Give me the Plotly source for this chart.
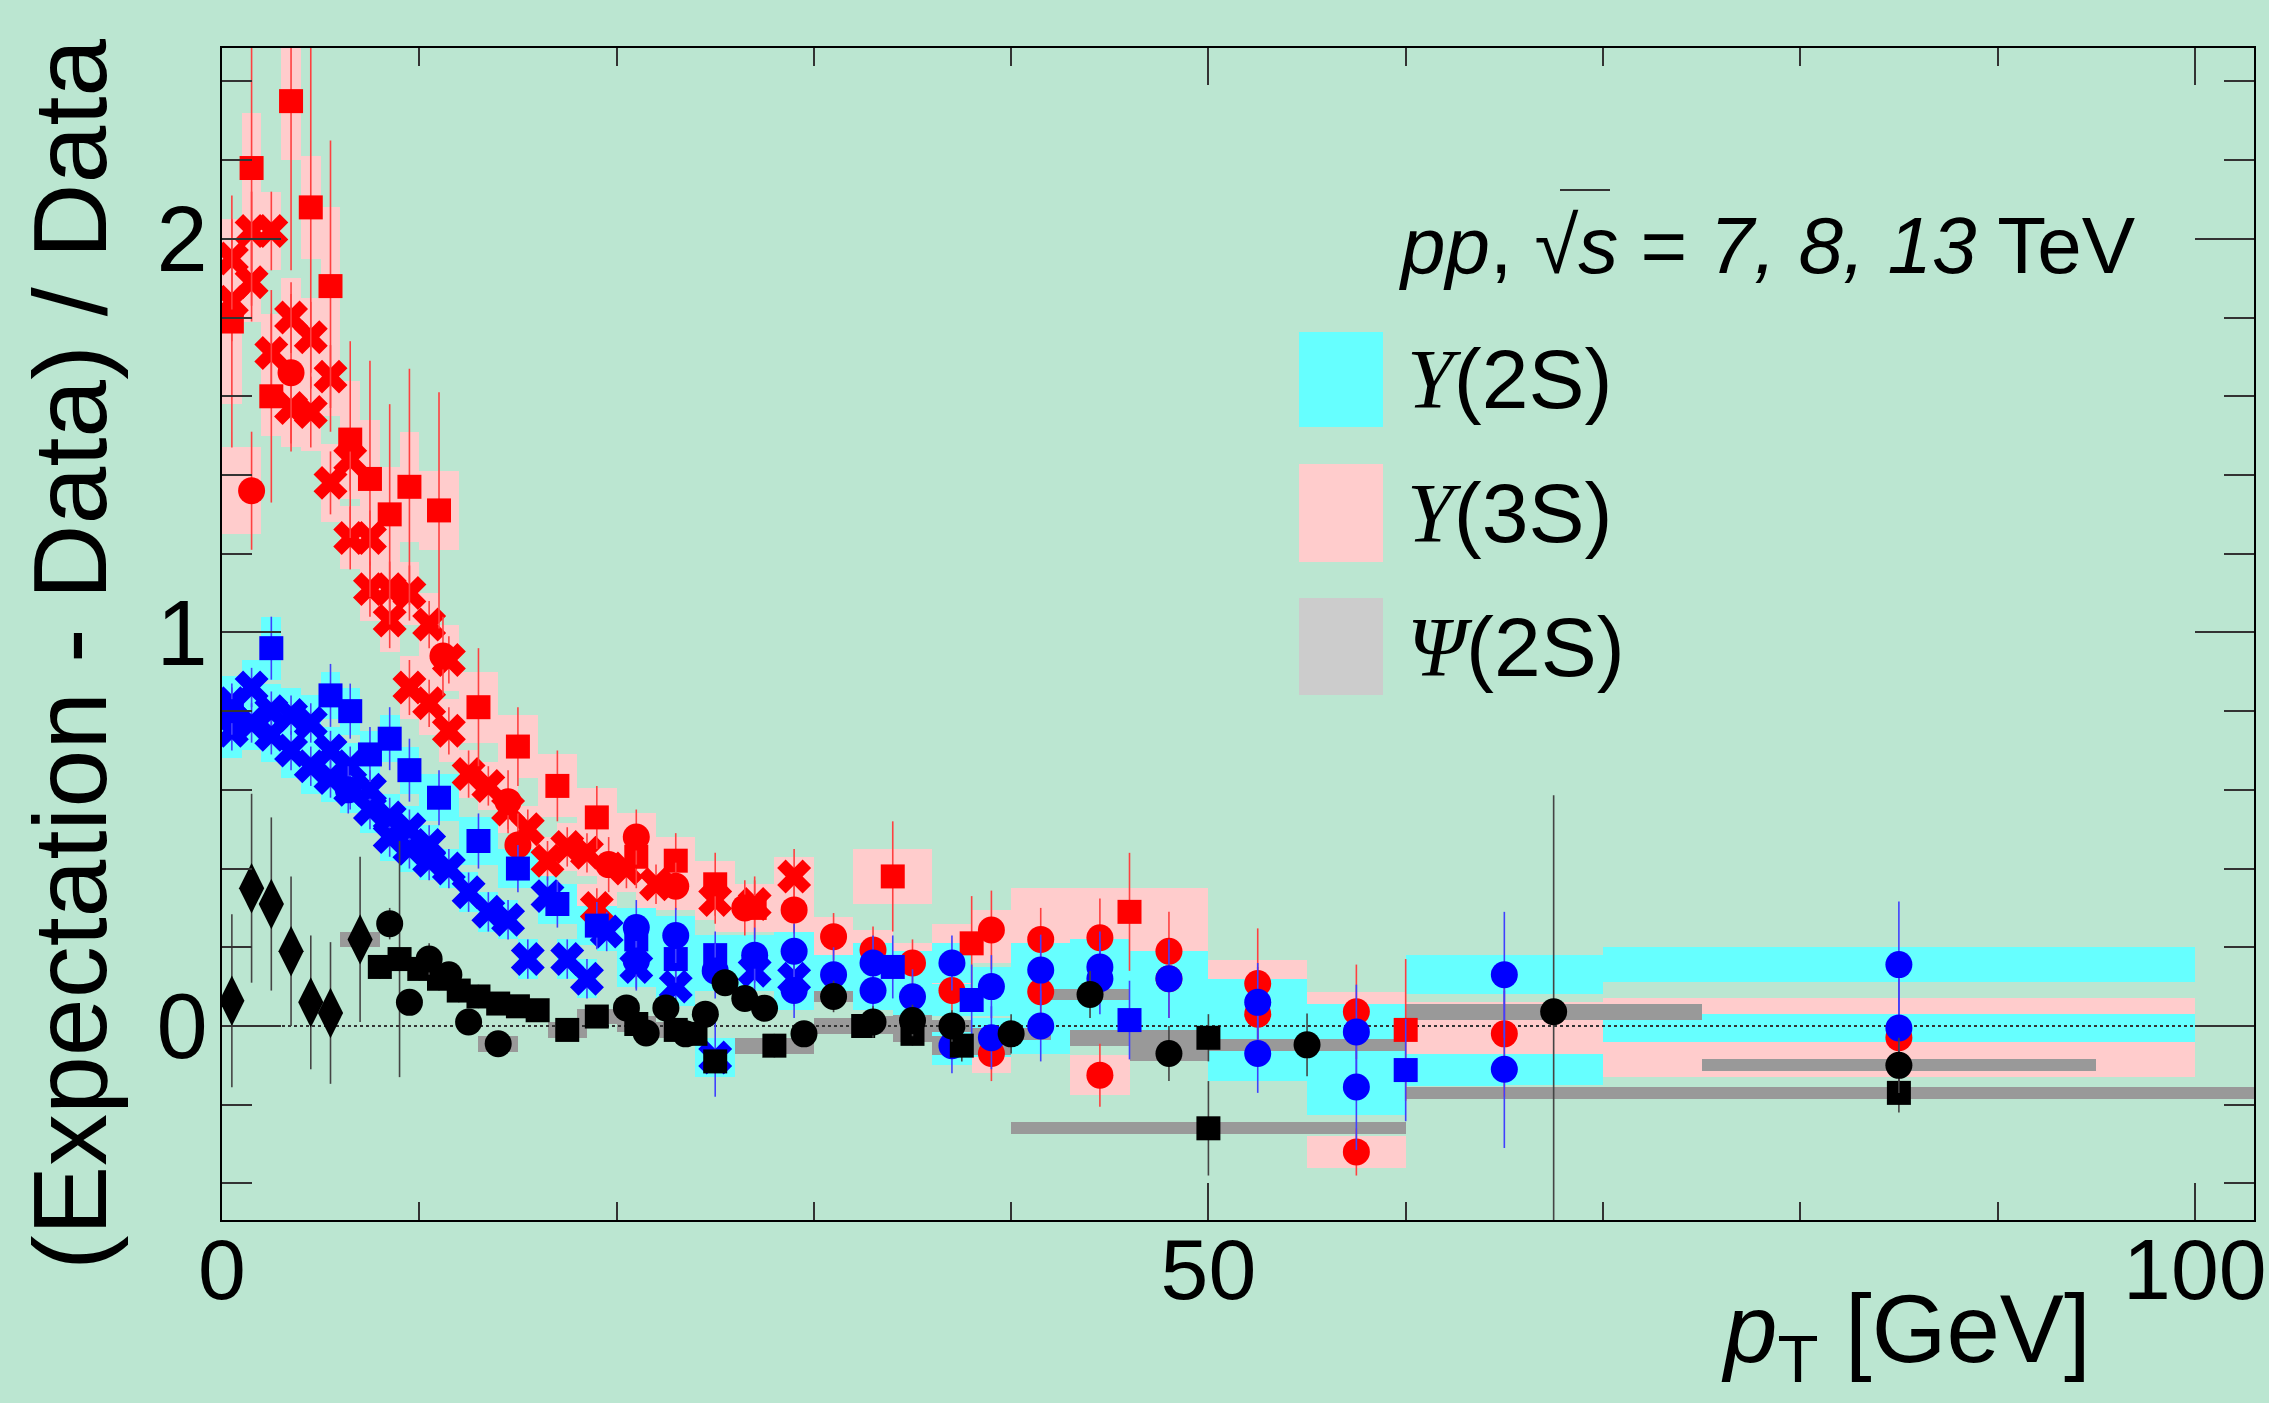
import plotly.graph_objects as go

# ---------------- data ----------------
# Upsilon(3S) - squares
R_sq_pt   = [0.5, 1.5, 2.5, 3.5, 4.5, 5.5, 6.5, 7.5, 8.5, 9.5, 11.0, 13.0, 15.0, 17.0, 19.0, 21.0, 23.0, 25.0, 27.0, 34.0, 38.0, 46.0, 60.0]
R_sq_val  = [1.79, 2.18, 1.60, 2.35, 2.08, 1.88, 1.49, 1.39, 1.30, 1.37, 1.31, 0.81, 0.71, 0.61, 0.53, 0.43, 0.42, 0.36, 0.30, 0.38, 0.21, 0.29, -0.01]
R_sq_stat = [0.32, 0.35, 0.27, 0.43, 0.46, 0.37, 0.25, 0.30, 0.28, 0.30, 0.30, 0.15, 0.10, 0.09, 0.08, 0.08, 0.07, 0.08, 0.08, 0.14, 0.12, 0.15, 0.18]
R_sq_xlo  = [0, 1, 2, 3, 4, 5, 6, 7, 8, 9, 10, 12, 14, 16, 18, 20, 22, 24, 26, 32, 36, 40, 50]
R_sq_xhi  = [1, 2, 3, 4, 5, 6, 7, 8, 9, 10, 12, 14, 16, 18, 20, 22, 24, 26, 28, 36, 40, 50, 70]
R_sq_sys  = [0.21, 0.14, 0.10, 0.15, 0.13, 0.20, 0.15, 0.15, 0.12, 0.14, 0.10, 0.09, 0.08, 0.08, 0.075, 0.07, 0.06, 0.06, 0.06, 0.07, 0.05, 0.06, 0.045]

# Upsilon(3S) - crosses
R_x_pt   = [0.5, 0.5, 1.5, 1.5, 2.5, 2.5, 3.5, 3.5, 4.5, 4.5, 5.5, 5.5, 6.5, 6.5, 7.5, 7.5, 8.5, 8.5, 9.5, 9.5, 10.5, 10.5, 11.5, 11.5, 12.5, 13.5, 14.5, 15.5, 16.5, 17.5, 18.5, 19.0, 20.5, 22.0, 25.0, 27.0, 29.0]
R_x_val  = [1.95, 1.84, 2.02, 1.89, 2.02, 1.71, 1.80, 1.57, 1.75, 1.56, 1.65, 1.38, 1.44, 1.24, 1.24, 1.11, 1.11, 1.03, 1.10, 0.86, 1.02, 0.82, 0.93, 0.75, 0.64, 0.61, 0.55, 0.50, 0.42, 0.455, 0.44, 0.30, 0.40, 0.36, 0.32, 0.31, 0.38]
R_x_stat = [0.10, 0.10, 0.10, 0.10, 0.10, 0.10, 0.09, 0.09, 0.09, 0.09, 0.08, 0.08, 0.08, 0.08, 0.07, 0.07, 0.07, 0.07, 0.07, 0.07, 0.06, 0.06, 0.06, 0.06, 0.06, 0.05, 0.05, 0.05, 0.05, 0.05, 0.05, 0.05, 0.05, 0.05, 0.06, 0.06, 0.07]
R_x_hw   = [0.5, 0.5, 0.5, 0.5, 0.5, 0.5, 0.5, 0.5, 0.5, 0.5, 0.5, 0.5, 0.5, 0.5, 0.5, 0.5, 0.5, 0.5, 0.5, 0.5, 0.5, 0.5, 0.5, 0.5, 0.5, 0.5, 0.5, 0.5, 0.5, 0.5, 0.5, 1.0, 0.5, 1.0, 1.0, 1.0, 1.0]
R_x_sys  = [0.10, 0.10, 0.10, 0.10, 0.10, 0.10, 0.10, 0.10, 0.10, 0.10, 0.10, 0.10, 0.08, 0.08, 0.08, 0.08, 0.08, 0.08, 0.08, 0.08, 0.08, 0.08, 0.08, 0.08, 0.06, 0.06, 0.06, 0.06, 0.06, 0.06, 0.06, 0.06, 0.06, 0.06, 0.05, 0.05, 0.05]

# Upsilon(3S) - circles
R_ci_pt   = [1.5, 3.5, 11.2, 14.5, 15.0, 19.6, 21.0, 23.0, 26.5, 29.0, 31.0, 33.0, 35.0, 37.0, 39.0, 39.0, 41.5, 41.5, 44.5, 44.5, 48.0, 48.0, 52.5, 52.5, 57.5, 57.5, 65.0, 85.0]
R_ci_val  = [1.36, 1.66, 0.94, 0.57, 0.46, 0.41, 0.48, 0.355, 0.30, 0.295, 0.227, 0.193, 0.16, 0.09, 0.244, -0.07, 0.22, 0.087, 0.224, -0.125, 0.19, 0.12, 0.108, 0.03, 0.036, -0.32, -0.02, -0.03]
R_ci_stat = [0.15, 0.20, 0.10, 0.08, 0.08, 0.07, 0.07, 0.06, 0.07, 0.06, 0.06, 0.06, 0.06, 0.06, 0.10, 0.07, 0.08, 0.08, 0.10, 0.08, 0.10, 0.10, 0.14, 0.12, 0.12, 0.06, 0.16, 0.17]
R_ci_xlo  = [0, 3, 10, 14, 15, 19, 20, 22, 25, 28, 30, 32, 34, 36, 38, 38, 40, 40, 43, 43, 46, 46, 50, 50, 55, 55, 60, 70]
R_ci_xhi  = [2, 4, 12, 15, 16, 20, 22, 24, 28, 30, 32, 34, 36, 38, 40, 40, 43, 43, 46, 46, 50, 50, 55, 55, 60, 60, 70, 100]
R_ci_sys  = [0.11, 0.12, 0.08, 0.07, 0.07, 0.06, 0.06, 0.06, 0.06, 0.06, 0.05, 0.05, 0.05, 0.05, 0.05, 0.05, 0.06, 0.06, 0.06, 0.05, 0.06, 0.06, 0.06, 0.05, 0.05, 0.04, 0.08, 0.10]

# Upsilon(2S) - squares
B_sq_pt   = [0.5, 2.5, 5.5, 6.5, 7.5, 8.5, 9.5, 11.0, 13.0, 15.0, 17.0, 19.0, 21.0, 23.0, 25.0, 34.0, 38.0, 46.0, 60.0]
B_sq_val  = [0.80, 0.96, 0.84, 0.80, 0.69, 0.73, 0.65, 0.58, 0.47, 0.40, 0.31, 0.255, 0.22, 0.17, 0.18, 0.15, 0.066, 0.015, -0.112]
B_sq_stat = [0.06, 0.08, 0.08, 0.07, 0.07, 0.08, 0.08, 0.07, 0.07, 0.06, 0.06, 0.06, 0.06, 0.06, 0.06, 0.08, 0.09, 0.10, 0.13]
B_sq_xlo  = [0, 2, 5, 6, 7, 8, 9, 10, 12, 14, 16, 18, 20, 22, 24, 32, 36, 40, 55]
B_sq_xhi  = [1, 3, 6, 7, 8, 9, 10, 12, 14, 16, 18, 20, 22, 24, 26, 36, 40, 50, 65]
B_sq_sys  = [0.06, 0.08, 0.06, 0.06, 0.06, 0.06, 0.06, 0.06, 0.06, 0.05, 0.05, 0.05, 0.05, 0.05, 0.05, 0.04, 0.04, 0.04, 0.04]

# Upsilon(2S) - crosses
B_x_pt   = [0.5, 0.5, 1.5, 1.5, 2.5, 2.5, 3.5, 3.5, 4.5, 4.5, 5.5, 5.5, 6.5, 6.5, 7.5, 7.5, 8.5, 8.5, 9.5, 9.5, 10.5, 10.5, 11.5, 12.5, 13.5, 14.5, 15.5, 16.5, 17.5, 18.5, 19.5, 21.0, 23.0, 25.0, 27.0, 29.0]
B_x_val  = [0.82, 0.75, 0.86, 0.77, 0.80, 0.74, 0.79, 0.70, 0.77, 0.66, 0.70, 0.63, 0.66, 0.60, 0.60, 0.55, 0.53, 0.48, 0.50, 0.45, 0.46, 0.42, 0.40, 0.34, 0.29, 0.27, 0.17, 0.33, 0.17, 0.12, 0.24, 0.15, 0.10, -0.08, 0.14, 0.12]
B_x_stat = [0.05, 0.05, 0.05, 0.05, 0.05, 0.05, 0.05, 0.05, 0.05, 0.05, 0.05, 0.05, 0.05, 0.05, 0.05, 0.05, 0.05, 0.05, 0.05, 0.05, 0.05, 0.05, 0.05, 0.05, 0.05, 0.05, 0.05, 0.05, 0.05, 0.05, 0.05, 0.06, 0.06, 0.10, 0.07, 0.07]
B_x_hw   = [0.5, 0.5, 0.5, 0.5, 0.5, 0.5, 0.5, 0.5, 0.5, 0.5, 0.5, 0.5, 0.5, 0.5, 0.5, 0.5, 0.5, 0.5, 0.5, 0.5, 0.5, 0.5, 0.5, 0.5, 0.5, 0.5, 0.5, 0.5, 0.5, 0.5, 0.5, 1.0, 1.0, 1.0, 1.0, 1.0]
B_x_sys  = [0.07, 0.07, 0.07, 0.07, 0.07, 0.07, 0.07, 0.07, 0.07, 0.07, 0.06, 0.06, 0.06, 0.06, 0.06, 0.06, 0.06, 0.06, 0.06, 0.06, 0.05, 0.05, 0.05, 0.05, 0.05, 0.05, 0.05, 0.05, 0.05, 0.05, 0.05, 0.05, 0.05, 0.05, 0.05, 0.05]

# Upsilon(2S) - circles
B_ci_pt   = [6.4, 21.0, 21.0, 23.0, 25.0, 27.0, 29.0, 29.0, 31.0, 33.0, 33.0, 35.0, 37.0, 37.0, 39.0, 39.0, 41.5, 41.5, 44.5, 44.5, 48.0, 52.5, 52.5, 57.5, 57.5, 65.0, 65.0, 85.0, 85.0]
B_ci_val  = [0.60, 0.25, 0.165, 0.23, 0.14, 0.18, 0.19, 0.09, 0.13, 0.16, 0.09, 0.074, 0.16, -0.05, 0.10, -0.03, 0.142, 0.0, 0.15, 0.12, 0.12, 0.06, -0.07, -0.015, -0.155, 0.13, -0.11, 0.156, -0.005]
B_ci_stat = [0.06, 0.07, 0.07, 0.07, 0.07, 0.07, 0.07, 0.07, 0.07, 0.07, 0.07, 0.07, 0.07, 0.07, 0.08, 0.08, 0.09, 0.09, 0.09, 0.09, 0.10, 0.10, 0.10, 0.12, 0.16, 0.16, 0.20, 0.16, 0.17]
B_ci_xlo  = [6, 20, 20, 22, 24, 26, 28, 28, 30, 32, 32, 34, 36, 36, 38, 38, 40, 40, 43, 43, 46, 50, 50, 55, 55, 60, 60, 70, 70]
B_ci_xhi  = [7, 22, 22, 24, 26, 28, 30, 30, 32, 34, 34, 36, 38, 38, 40, 40, 43, 43, 46, 46, 50, 55, 55, 60, 60, 70, 70, 100, 100]
B_ci_sys  = [0.05, 0.05, 0.05, 0.05, 0.05, 0.05, 0.05, 0.05, 0.05, 0.05, 0.05, 0.05, 0.05, 0.05, 0.05, 0.05, 0.07, 0.07, 0.07, 0.07, 0.07, 0.06, 0.07, 0.07, 0.07, 0.05, 0.04, 0.045, 0.035]

# Psi(2S) - diamonds
K_d_pt   = [0.5, 1.5, 2.5, 3.5, 4.5, 5.5, 7.0]
K_d_val  = [0.064, 0.35, 0.31, 0.19, 0.06, 0.033, 0.22]
K_d_stat = [0.22, 0.24, 0.22, 0.19, 0.17, 0.18, 0.21]
K_d_xlo  = [0, 1, 2, 3, 4, 5, 6]
K_d_xhi  = [1, 2, 3, 4, 5, 6, 8]
K_d_sys  = [0.01, 0.01, 0.01, 0.01, 0.01, 0.01, 0.02]

# Psi(2S) - circles
K_ci_pt   = [8.5, 9.5, 10.5, 11.5, 12.5, 14.0, 20.5, 21.5, 22.5, 23.5, 24.5, 25.5, 26.5, 27.5, 29.5, 31.0, 33.0, 35.0, 37.0, 40.0, 44.0, 48.0, 55.0, 67.5, 85.0]
K_ci_val  = [0.26, 0.06, 0.17, 0.13, 0.01, -0.045, 0.046, -0.018, 0.046, -0.02, 0.03, 0.11, 0.07, 0.045, -0.02, 0.075, 0.01, 0.014, 0.0, -0.02, 0.08, -0.07, -0.048, 0.036, -0.10]
K_ci_stat = [0.04, 0.03, 0.04, 0.03, 0.03, 0.03, 0.03, 0.03, 0.03, 0.03, 0.03, 0.03, 0.03, 0.03, 0.03, 0.04, 0.04, 0.04, 0.04, 0.05, 0.06, 0.07, 0.08, 0.55, 0.07]
K_ci_xlo  = [8, 9, 10, 11, 12, 13, 20, 21, 22, 23, 24, 25, 26, 27, 29, 30, 32, 34, 36, 38, 42, 46, 50, 60, 75]
K_ci_xhi  = [9, 10, 11, 12, 13, 15, 21, 22, 23, 24, 25, 26, 27, 28, 30, 32, 34, 36, 38, 42, 46, 50, 60, 75, 95]
K_ci_sys  = [0.02, 0.02, 0.02, 0.02, 0.02, 0.02, 0.015, 0.015, 0.015, 0.015, 0.015, 0.015, 0.015, 0.015, 0.015, 0.015, 0.015, 0.015, 0.015, 0.015, 0.015, 0.02, 0.015, 0.02, 0.015]

# Psi(2S) - squares
K_sq_pt   = [8.0, 9.0, 10.0, 11.0, 12.0, 13.0, 14.0, 15.0, 16.0, 17.5, 19.0, 21.0, 23.0, 24.0, 25.0, 28.0, 32.5, 35.0, 37.5, 50.0, 50.0, 85.0]
K_sq_val  = [0.15, 0.17, 0.145, 0.12, 0.09, 0.075, 0.057, 0.05, 0.04, -0.01, 0.024, 0.005, -0.01, -0.02, -0.09, -0.05, 0.0, -0.02, -0.05, -0.03, -0.26, -0.17]
K_sq_stat = [0.03, 0.30, 0.03, 0.03, 0.03, 0.03, 0.02, 0.02, 0.02, 0.02, 0.02, 0.02, 0.02, 0.02, 0.03, 0.03, 0.03, 0.03, 0.04, 0.06, 0.12, 0.05]
K_sq_xlo  = [7.5, 8.5, 9.5, 10.5, 11.5, 12.5, 13.5, 14.5, 15.5, 16.5, 18, 20, 22, 23.5, 24.5, 26, 30, 34, 36, 43, 40, 60]
K_sq_xhi  = [8.5, 9.5, 10.5, 11.5, 12.5, 13.5, 14.5, 15.5, 16.5, 18.5, 20, 22, 24, 24.5, 25.5, 30, 35, 36, 40, 50, 60, 110]
K_sq_sys  = [0.02, 0.02, 0.02, 0.02, 0.02, 0.02, 0.02, 0.02, 0.02, 0.02, 0.02, 0.02, 0.02, 0.02, 0.02, 0.02, 0.02, 0.02, 0.025, 0.02, 0.015, 0.015]

LEGEND_LABELS = ["Υ(2S)", "Υ(3S)", "Ψ(2S)"]

# ---------------- style ----------------
BG = "#bbe6d1"
PINK, CYAN, GREY = "#ffcccc", "#66ffff", "#999999"
FONT = "Liberation Sans, Arial, Helvetica, sans-serif"
SERIF = "Liberation Serif, Times New Roman, serif"

W, H = 2269, 1403
L, R, T, B = 222, 15, 48, 183
PW, PH = W - L - R, H - T - B


def px(xp):
    return (xp - L) / PW


def py(yp):
    return (H - B - yp) / PH


fig = go.Figure()


def boxes(xlo, xhi, val, sys, color):
    fig.add_trace(go.Bar(
        x=[(a + b) / 2 for a, b in zip(xlo, xhi)],
        y=[2 * s for s in sys],
        base=[v - s for v, s in zip(val, sys)],
        width=[b - a for a, b in zip(xlo, xhi)],
        marker=dict(color=color, line=dict(width=0)),
        showlegend=False, hoverinfo="skip"))


def points(pt, val, stat, color, ecolor, symbol, size):
    fig.add_trace(go.Scatter(
        x=pt, y=val, mode="markers",
        marker=dict(symbol=symbol, size=size, color=color, line=dict(width=0)),
        error_y=dict(type="data", array=stat, visible=True, color=ecolor, thickness=1.6, width=0),
        showlegend=False, hoverinfo="skip"))


# systematic boxes
boxes(R_sq_xlo, R_sq_xhi, R_sq_val, R_sq_sys, PINK)
boxes([p - h for p, h in zip(R_x_pt, R_x_hw)], [p + h for p, h in zip(R_x_pt, R_x_hw)], R_x_val, R_x_sys, PINK)
boxes(R_ci_xlo, R_ci_xhi, R_ci_val, R_ci_sys, PINK)
boxes(B_sq_xlo, B_sq_xhi, B_sq_val, B_sq_sys, CYAN)
boxes([p - h for p, h in zip(B_x_pt, B_x_hw)], [p + h for p, h in zip(B_x_pt, B_x_hw)], B_x_val, B_x_sys, CYAN)
boxes(B_ci_xlo, B_ci_xhi, B_ci_val, B_ci_sys, CYAN)
boxes(K_d_xlo, K_d_xhi, K_d_val, K_d_sys, GREY)
boxes(K_ci_xlo, K_ci_xhi, K_ci_val, K_ci_sys, GREY)
boxes(K_sq_xlo, K_sq_xhi, K_sq_val, K_sq_sys, GREY)

# reference line at zero
fig.add_trace(go.Scatter(x=[0, 100], y=[0, 0], mode="lines",
                         line=dict(color="#333333", width=2, dash="dot"),
                         showlegend=False, hoverinfo="skip"))

# data points
points(R_x_pt, R_x_val, R_x_stat, "red", "#ff4040", "x", 30)
points(R_sq_pt, R_sq_val, R_sq_stat, "red", "#ff4040", "square", 24)
points(R_ci_pt, R_ci_val, R_ci_stat, "red", "#ff4040", "circle", 27)
points(B_x_pt, B_x_val, B_x_stat, "blue", "#4040ff", "x", 30)
points(B_sq_pt, B_sq_val, B_sq_stat, "blue", "#4040ff", "square", 24)
points(B_ci_pt, B_ci_val, B_ci_stat, "blue", "#4040ff", "circle", 27)
points(K_d_pt, K_d_val, K_d_stat, "black", "#444444", "diamond-tall", 36)
points(K_sq_pt, K_sq_val, K_sq_stat, "black", "#444444", "square", 24)
points(K_ci_pt, K_ci_val, K_ci_stat, "black", "#444444", "circle", 27)

# legend (drawn by hand, ROOT style)
leg_colors = [CYAN, PINK, "#cccccc"]
leg_top = [332, 464, 598]
leg_bot = [427, 562, 695]
shapes = []
annotations = []
for lab, col, t, b in zip(LEGEND_LABELS, leg_colors, leg_top, leg_bot):
    shapes.append(dict(type="rect", xref="paper", yref="paper",
                       x0=px(1299), x1=px(1383), y0=py(b), y1=py(t),
                       fillcolor=col, line=dict(width=0), layer="above"))
    sym, rest = lab[0], lab[1:]
    annotations.append(dict(
        xref="paper", yref="paper", x=px(1405), y=py((t + b) / 2),
        xanchor="left", yanchor="middle", showarrow=False,
        text="<span style='font-family:%s'><i>%s</i></span>%s" % (SERIF, sym, rest),
        font=dict(size=84, family=FONT, color="black")))

header_html = "<i>pp</i>, √<i>s</i> = <i>7, 8, 13</i> TeV"
annotations.append(dict(xref="paper", yref="paper", x=px(1397), y=py(246),
                        xanchor="left", yanchor="middle", showarrow=False,
                        text=header_html, font=dict(size=80, family=FONT, color="black")))
# overline of the square root
shapes.append(dict(type="line", xref="paper", yref="paper",
                   x0=px(1560), x1=px(1610), y0=py(190), y1=py(190),
                   line=dict(color="#333333", width=2), layer="above"))

# axis titles
annotations.append(dict(xref="paper", yref="paper", x=px(70), y=py(655),
                        xanchor="center", yanchor="middle", showarrow=False, textangle=-90,
                        text="(Expectation - Data) / Data",
                        font=dict(size=104, family=FONT, color="black")))
annotations.append(dict(xref="paper", yref="paper", x=px(2093), y=py(1335),
                        xanchor="right", yanchor="middle", showarrow=False,
                        text="<i>p</i><sub>T</sub> [GeV]",
                        font=dict(size=96, family=FONT, color="black")))

fig.update_layout(
    width=W, height=H,
    margin=dict(l=L, r=R, t=T, b=B, pad=0, autoexpand=False),
    paper_bgcolor=BG, plot_bgcolor=BG,
    barmode="overlay", bargap=0, showlegend=False,
    font=dict(family=FONT, color="black"),
    shapes=shapes, annotations=annotations,
    xaxis=dict(range=[0, 103.0], showgrid=False, zeroline=False, automargin=False,
               showline=True, linecolor="black", linewidth=2, mirror="ticks",
               ticks="inside", ticklen=37, tickwidth=2, tickcolor="#333333",
               tickmode="linear", tick0=0, dtick=50,
               tickfont=dict(size=86, family=FONT, color="black"),
               ticklabelstandoff=-26, ticklabeloverflow="allow",
               minor=dict(ticks="inside", ticklen=18, tickwidth=2, tickcolor="#333333",
                          dtick=10, tick0=0, showgrid=False)),
    yaxis=dict(range=[-0.493, 2.485], showgrid=False, zeroline=False, automargin=False,
               showline=True, linecolor="black", linewidth=2, mirror="ticks",
               ticks="inside", ticklen=59, tickwidth=2, tickcolor="#333333",
               tickmode="linear", tick0=0, dtick=1,
               tickfont=dict(size=92, family=FONT, color="black"),
               ticklabelstandoff=-6,
               minor=dict(ticks="inside", ticklen=30, tickwidth=2, tickcolor="#333333",
                          dtick=0.2, tick0=0, showgrid=False)),
)

fig.write_html("out.html")
